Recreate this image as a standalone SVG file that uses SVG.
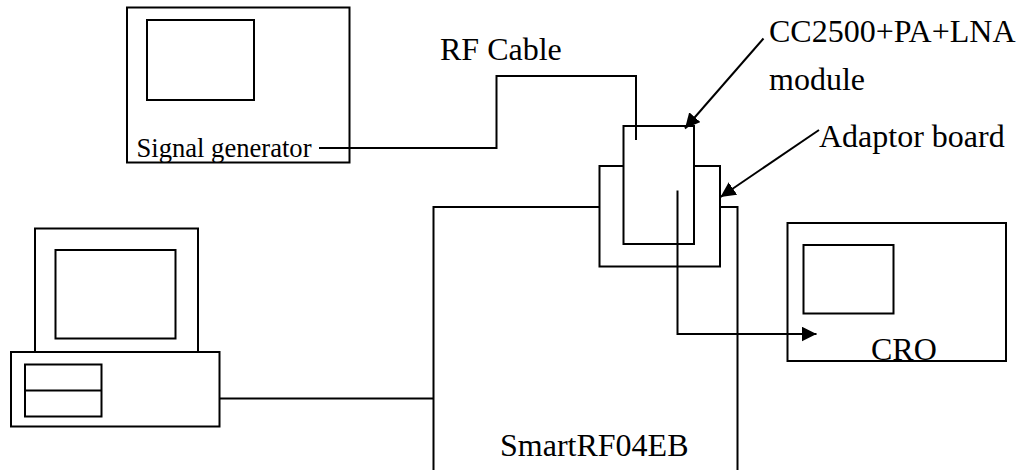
<svg xmlns="http://www.w3.org/2000/svg" width="1021" height="470" viewBox="0 0 1021 470">
<style>
.s{fill:#fff;stroke:#000;stroke-width:2}
.l{fill:none;stroke:#000;stroke-width:2}
.t{font-family:"Liberation Serif","Times New Roman",serif;font-size:32px;fill:#000}
</style>
<defs>
<marker id="ah" viewBox="0 0 15 15" refX="15" refY="7.5" markerWidth="15" markerHeight="15" markerUnits="userSpaceOnUse" orient="auto">
<path d="M0,0 L15,7.5 L0,15 z" fill="#000"/>
</marker>
</defs>
<rect width="1021" height="470" fill="#fff"/>
<g id="signal-generator">
<rect class="s" x="127" y="7.5" width="222.5" height="155"/>
<rect class="s" x="147" y="20" width="107" height="80"/>
<text class="t" x="136.5" y="156.5" style="font-size:26.6px">Signal generator</text>
</g>
<g id="pc">
<rect class="s" x="35" y="228.5" width="163" height="123.5"/>
<rect class="s" x="55.5" y="250" width="120" height="88.5"/>
<rect class="s" x="11" y="352" width="208.5" height="74.5"/>
<rect class="s" x="25" y="364.5" width="76.5" height="52"/>
<line class="l" x1="25" y1="390.5" x2="101.5" y2="390.5"/>
</g>
<g id="smartrf04eb">
<rect class="s" x="433.5" y="207" width="304" height="280"/>
<text class="t" x="500" y="455.5">SmartRF04EB</text>
</g>
<g id="adaptor-board">
<rect class="s" x="599.5" y="166" width="120.5" height="100.5"/>
</g>
<g id="module">
<rect class="s" x="623.5" y="126" width="70.5" height="118"/>
</g>
<g id="cro">
<rect class="s" x="787.5" y="223" width="218.5" height="138"/>
<rect class="s" x="803.5" y="245" width="90" height="68.5"/>
<text class="t" x="871" y="360">CRO</text>
</g>
<g id="labels">
<text class="t" x="440" y="59.5">RF Cable</text>
<text class="t" x="769" y="41.5">CC2500+PA+LNA</text>
<text class="t" x="769" y="90">module</text>
<text class="t" x="819" y="146.5">Adaptor board</text>
</g>
<g id="connectors">
<polyline class="l" points="319,148 496.5,148 496.5,76 636,76 636,140"/>
<line class="l" x1="219.5" y1="398.5" x2="433.5" y2="398.5"/>
<polyline class="l" points="677.5,190.5 677.5,334 816.5,334" marker-end="url(#ah)"/>
<line class="l" x1="763.5" y1="38.5" x2="685" y2="128.5" marker-end="url(#ah)"/>
<line class="l" x1="819" y1="130" x2="720.5" y2="197" marker-end="url(#ah)"/>
</g>
</svg>
